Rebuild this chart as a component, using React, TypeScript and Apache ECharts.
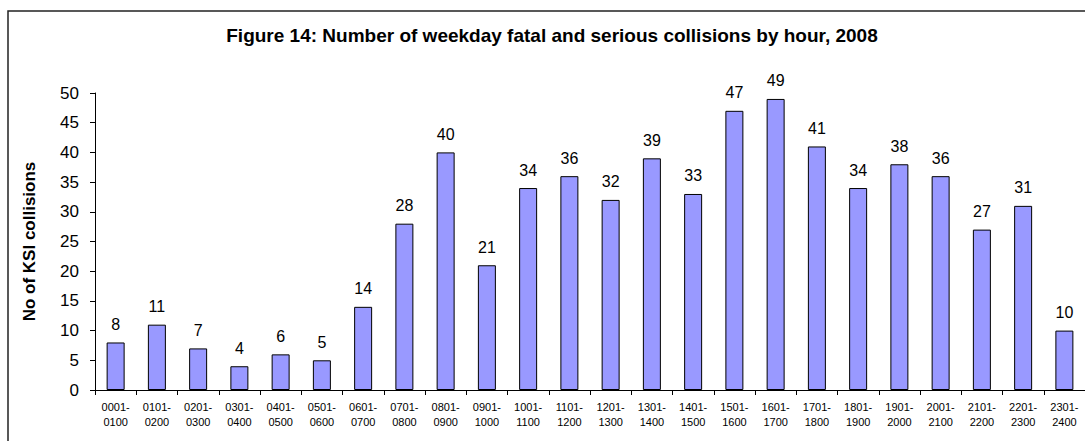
import React, { useEffect, useRef } from "react";
import * as echarts from "echarts";

const TITLE = "Figure 14: Number of weekday fatal and serious collisions by hour, 2008";
const Y_NAME = "No of KSI collisions";
const HOURS = [
  "0001-\n0100", "0101-\n0200", "0201-\n0300", "0301-\n0400", "0401-\n0500", "0501-\n0600",
  "0601-\n0700", "0701-\n0800", "0801-\n0900", "0901-\n1000", "1001-\n1100", "1101-\n1200",
  "1201-\n1300", "1301-\n1400", "1401-\n1500", "1501-\n1600", "1601-\n1700", "1701-\n1800",
  "1801-\n1900", "1901-\n2000", "2001-\n2100", "2101-\n2200", "2201-\n2300", "2301-\n2400",
];
const COLLISIONS = [8, 11, 7, 4, 6, 5, 14, 28, 40, 21, 34, 36, 32, 39, 33, 47, 49, 41, 34, 38, 36, 27, 31, 10];
const Y_MIN = 0;
const Y_MAX = 50;
const Y_STEP = 5;

const FONT = '"Liberation Sans", Arial, Helvetica, sans-serif';

export default function App() {
  const ref = useRef<HTMLDivElement>(null);
  useEffect(() => {
    if (!ref.current) return;
    const chart = echarts.init(ref.current, undefined, { renderer: "svg" });
    chart.setOption({
      animation: false,
      backgroundColor: "#ffffff",
      textStyle: { fontFamily: FONT },
      graphic: [
        {
          type: "rect",
          shape: { x: 8, y: 11, width: 1100, height: 460 },
          style: { fill: "none", stroke: "#222", lineWidth: 1.5 },
          silent: true,
          z: -1,
        },
        {
          type: "text",
          x: 552,
          y: 35,
          style: {
            text: TITLE,
            fontFamily: FONT,
            fontSize: 19,
            fontWeight: "bold",
            fill: "#000",
            textAlign: "center",
            textVerticalAlign: "middle",
          },
        },
      ],
      grid: { left: 95, right: 0, top: 93, bottom: 51, containLabel: false },
      xAxis: {
        type: "category",
        data: HOURS,
        axisLine: { show: true, lineStyle: { color: "#000", width: 1 } },
        axisTick: { show: true, length: 5, lineStyle: { color: "#000" } },
        axisLabel: {
          interval: 0,
          margin: 9,
          color: "#000",
          fontFamily: FONT,
          fontSize: 11,
          lineHeight: 15,
        },
      },
      yAxis: {
        type: "value",
        min: Y_MIN,
        max: Y_MAX,
        interval: Y_STEP,
        name: Y_NAME,
        nameLocation: "middle",
        nameRotate: 90,
        nameGap: 57,
        nameTextStyle: { fontFamily: FONT, fontSize: 17, fontWeight: "bold", color: "#000" },
        axisLine: { show: true, lineStyle: { color: "#000", width: 1 } },
        axisTick: { show: true, length: 5, lineStyle: { color: "#000" } },
        axisLabel: { margin: 16, color: "#000", fontFamily: FONT, fontSize: 17 },
        splitLine: { show: false },
      },
      series: [
        {
          type: "bar",
          data: COLLISIONS,
          barWidth: 18,
          itemStyle: { color: "#9999FF", borderColor: "#000", borderWidth: 1 },
          label: {
            show: true,
            position: "top",
            distance: 10,
            color: "#000",
            fontFamily: FONT,
            fontSize: 16,
          },
        },
      ],
    });
    return () => chart.dispose();
  }, []);
  return (
    <div
      ref={ref}
      style={{ position: "fixed", left: 0, top: 0, width: 1085, height: 441 }}
    />
  );
}
